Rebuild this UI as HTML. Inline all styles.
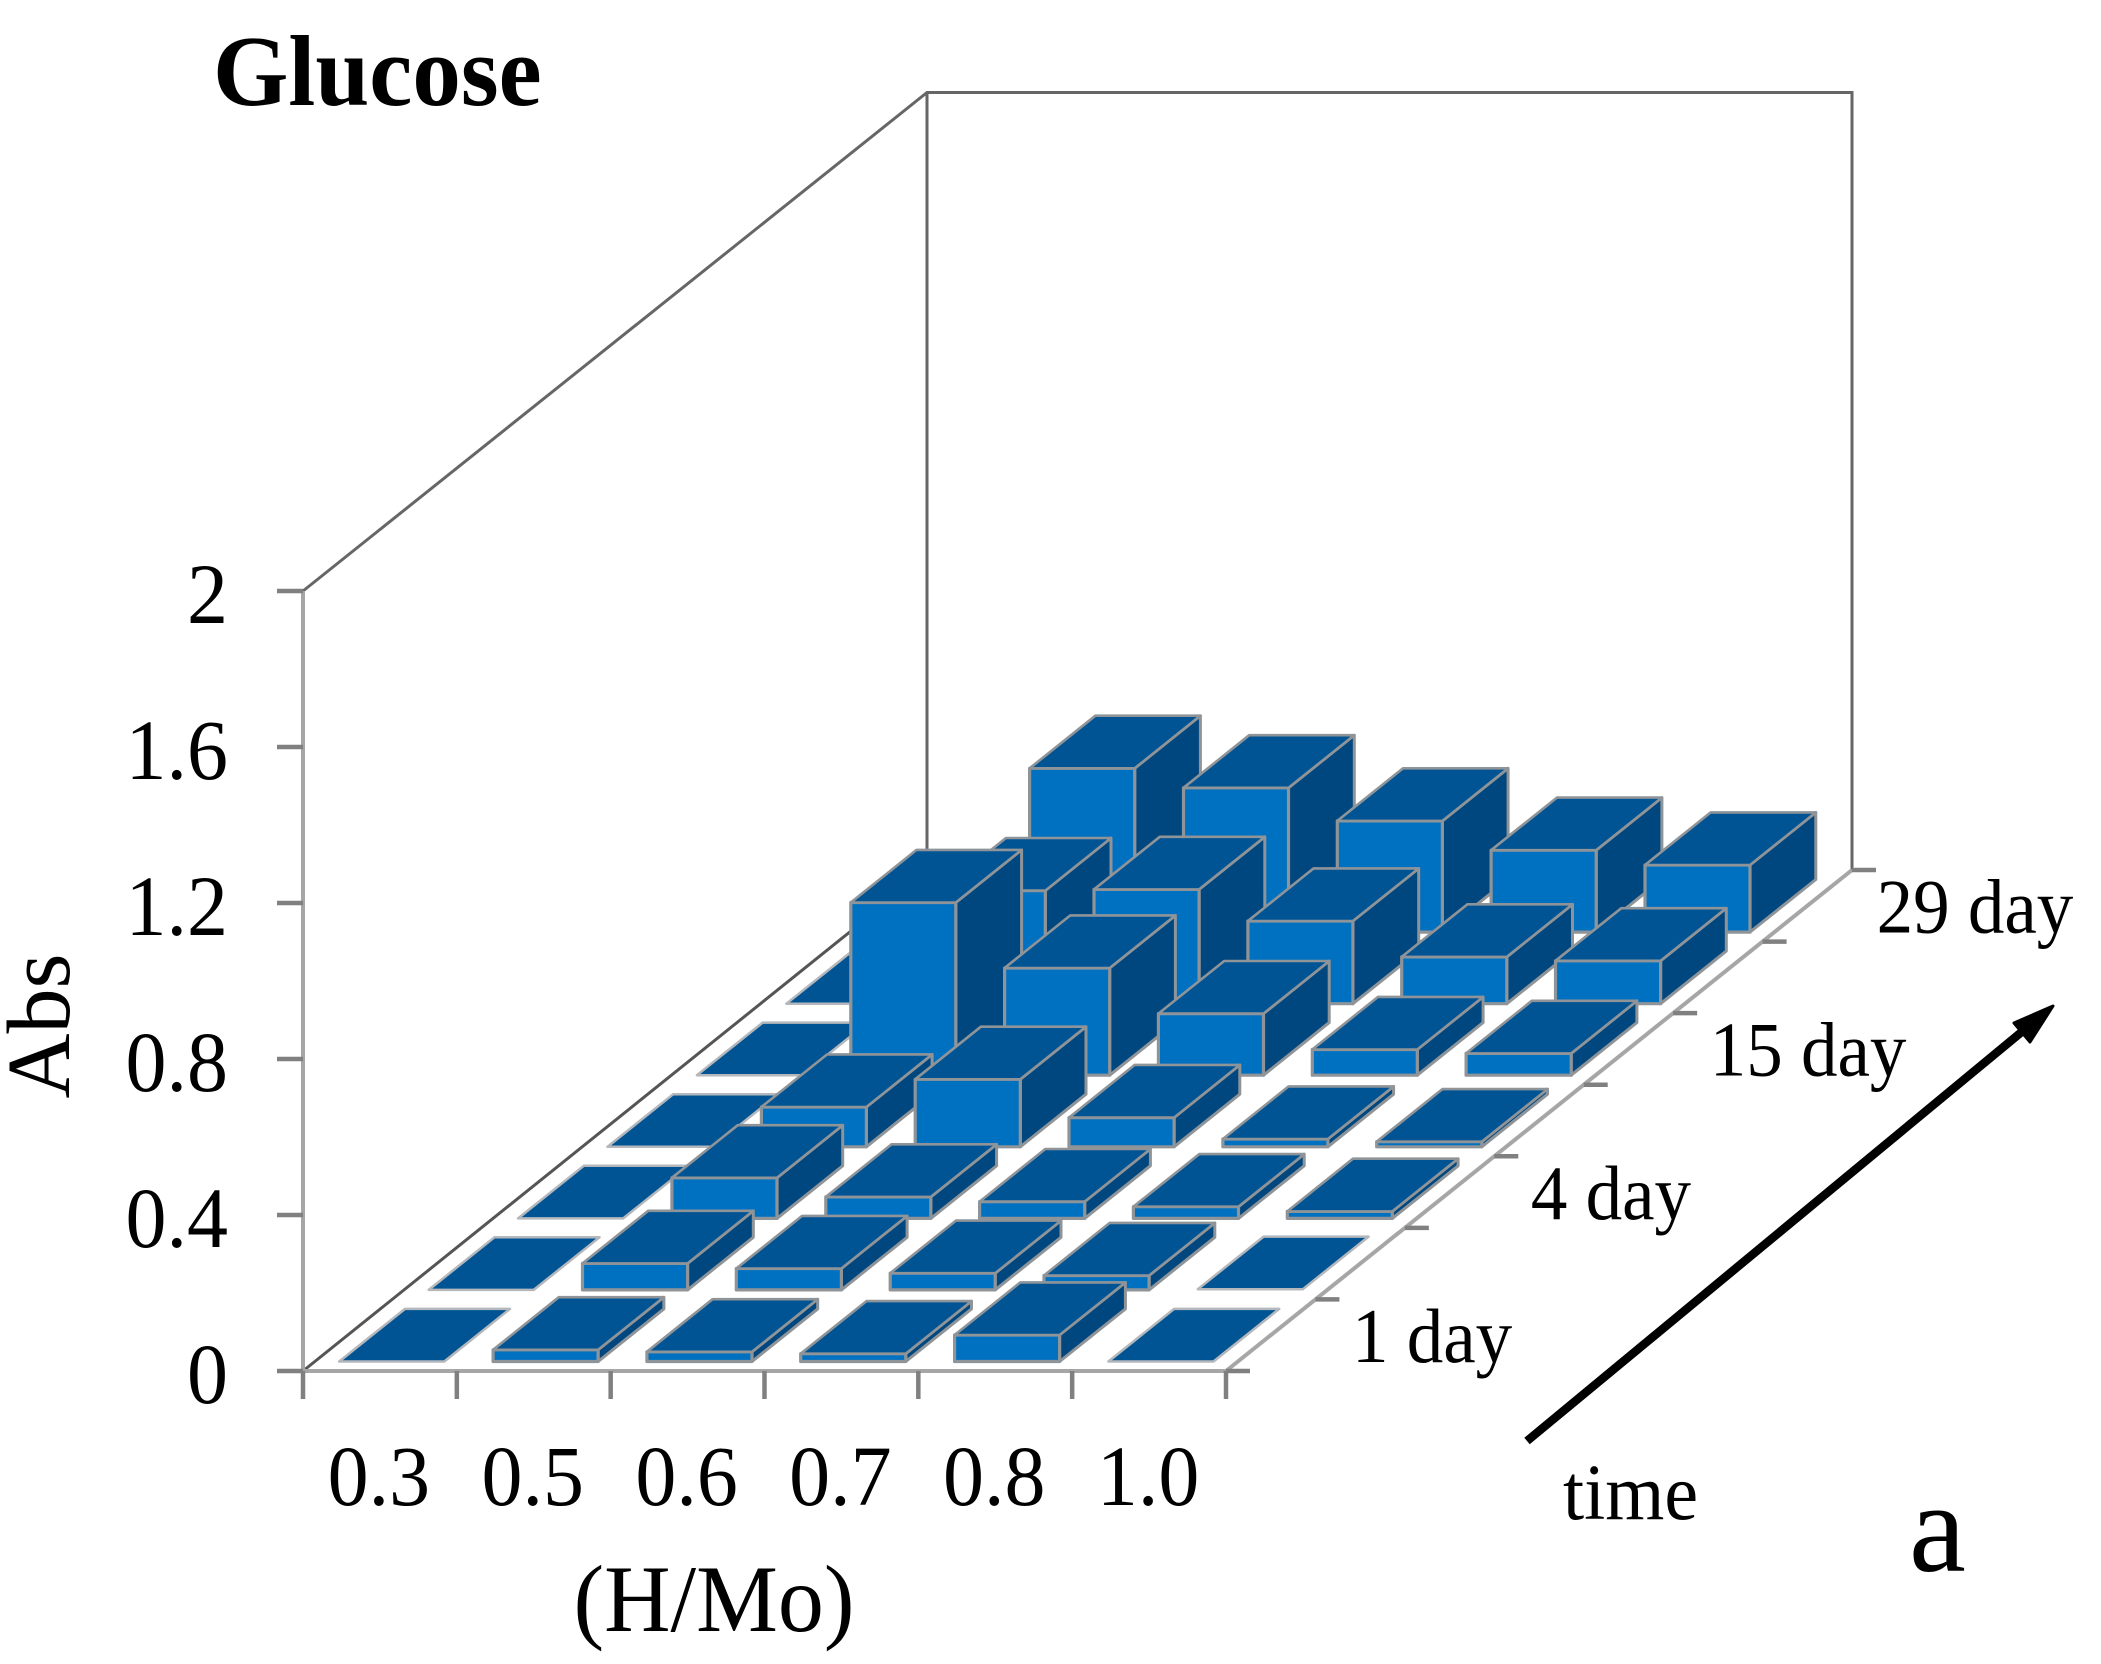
<!DOCTYPE html>
<html lang="en">
<head>
<meta charset="utf-8">
<title>Glucose 3D bar chart</title>
<style>
html,body{margin:0;padding:0;background:#fff;}
body{width:2101px;height:1664px;overflow:hidden;}
svg{display:block;}
text{font-family:"Liberation Serif",serif;fill:#000;}
</style>
</head>
<body>
<svg id="chart" xmlns="http://www.w3.org/2000/svg" width="2101" height="1664" viewBox="0 0 2101 1664">
  <rect x="0" y="0" width="2101" height="1664" fill="#fff"/>
  <g id="walls"></g>
  <g id="axes"></g>
  <g id="bars"></g>
  <g id="labels"></g>
  <text transform="translate(213,105) scale(1,1.04)" font-size="97" font-weight="bold">Glucose</text>
  <text transform="translate(69,1026) rotate(-90)" font-size="90" text-anchor="middle">Abs</text>
  <text transform="translate(714,1631) scale(1,1.04)" font-size="92" text-anchor="middle">(H/Mo)</text>
  <text transform="translate(1563,1519) scale(1,1.04)" font-size="76">time</text>
  <text x="1909" y="1571" font-size="128">a</text>
  <line x1="1527" y1="1441" x2="2024" y2="1030" stroke="#000" stroke-width="8.5"/>
  <polygon points="2053,1006 2014,1023 2030,1042" fill="#000" stroke="#000" stroke-width="3" stroke-linejoin="round"/>
</svg>
<script>
// Chart data
const categories = ["0.3", "0.5", "0.6", "0.7", "0.8", "1.0"];
const timeLabels = ["1 day", "", "4 day", "", "15 day", "", "29 day"];
const yTicks = [0, 0.4, 0.8, 1.2, 1.6, 2];
const yTickLabels = ["0", "0.4", "0.8", "1.2", "1.6", "2"];
const row1 = [0, 0.03, 0.025, 0.02, 0.068, 0];
const row2 = [0, 0.068, 0.055, 0.043, 0.037, 0.002];
const row3 = [0, 0.104, 0.055, 0.043, 0.03, 0.018];
const row4 = [0, 0.102, 0.173, 0.075, 0.02, 0.013];
const row5 = [0, 0.443, 0.275, 0.158, 0.066, 0.056];
const row6 = [0, 0.29, 0.293, 0.212, 0.12, 0.11];
const row7 = [0, 0.42, 0.37, 0.285, 0.21, 0.172];
const seriesRows = [row1, row2, row3, row4, row5, row6, row7];
const yMax = 2;

// Projection
const originX = 303, originY = 1371;
const floorWidth = 923, depthDX = 626, depthDY = 501, wallHeight = 780;
const colWidth = floorWidth / categories.length;
const rowDX = depthDX / timeLabels.length, rowDY = depthDY / timeLabels.length;
const barFrac = 0.683, depthFrac = 0.735;

function project(col, row, value) {
  return [
    originX + col * colWidth + row * rowDX,
    originY - row * rowDY - (value / yMax) * wallHeight
  ];
}
function pts(list) {
  return list.map(function (p) { return p[0].toFixed(1) + "," + p[1].toFixed(1); }).join(" ");
}
const NS = "http://www.w3.org/2000/svg";
function make(tag, parent, attrs) {
  const el = document.createElementNS(NS, tag);
  for (const k in attrs) { el.setAttribute(k, attrs[k]); }
  parent.appendChild(el);
  return el;
}
const walls = document.getElementById("walls");
const axes = document.getElementById("axes");
const bars = document.getElementById("bars");
const labels = document.getElementById("labels");
const nCols = categories.length, nRows = timeLabels.length;

// Walls: back and left edges
const backTopLeft = project(0, nRows, yMax), wallBotLeft = project(0, nRows, 0);
const backTopRight = project(nCols, nRows, yMax), wallBotRight = project(nCols, nRows, 0);
const wallTopLeft = [backTopLeft[0] - 2, backTopLeft[1] + 2.5];
const wallTopRight = [backTopRight[0], backTopRight[1] + 2.5];
const wallBaseLeft = [wallBotLeft[0] - 2, wallBotLeft[1]];
const frontTop = project(0, 0, yMax), frontBot = project(0, 0, 0), frontRight = project(nCols, 0, 0);

const wallOutline = make("polyline", walls, {points: pts([frontTop, wallTopLeft, wallTopRight, wallBotRight]), fill: "none", stroke: "#666666", "stroke-width": 3});


const wallVertical = make("line", walls, {x1: wallTopLeft[0], y1: wallTopLeft[1], x2: wallBaseLeft[0], y2: wallBaseLeft[1], stroke: "#666666", "stroke-width": 3});


const floorLeft = make("line", walls, {x1: frontBot[0], y1: frontBot[1], x2: wallBaseLeft[0], y2: wallBaseLeft[1], stroke: "#555555", "stroke-width": 3});



// Axis lines
const yAxisLine = make("line", axes, {x1: frontTop[0], y1: frontTop[1], x2: frontBot[0], y2: frontBot[1], stroke: "#a6a6a6", "stroke-width": 4});


const xAxisLine = make("line", axes, {x1: frontBot[0], y1: frontBot[1], x2: frontRight[0], y2: frontRight[1], stroke: "#a6a6a6", "stroke-width": 4});


const depthAxisLine = make("line", axes, {x1: frontRight[0], y1: frontRight[1], x2: wallBotRight[0], y2: wallBotRight[1], stroke: "#a6a6a6", "stroke-width": 4});



// Y ticks and labels
yTicks.forEach(function (v, i) {
  const p = project(0, 0, v);
  const t = make("line", axes, {x1: p[0] - 26, y1: p[1], x2: p[0], y2: p[1], stroke: "#808080", "stroke-width": 4.5});
  
  
  const l = make("text", labels, {transform: "translate(228," + (p[1] + 32) + ") scale(1,1.05)", "font-size": 82, "text-anchor": "end"});
  
  
  l.textContent = yTickLabels[i];
});

// X ticks and labels
for (let c = 0; c <= nCols; c++) {
  const p = project(c, 0, 0);
  const t = make("line", axes, {x1: p[0], y1: p[1], x2: p[0], y2: p[1] + 28, stroke: "#808080", "stroke-width": 4.5});
  
  
}
categories.forEach(function (cat, c) {
  const p = project(c + 0.5, 0, 0);
  const l = make("text", labels, {transform: "translate(" + (p[0] - 1) + ",1505) scale(1,1.05)", "font-size": 82, "text-anchor": "middle"});
  
  
  l.textContent = cat;
});

// Depth ticks and labels
for (let r = 0; r <= nRows; r++) {
  const p = project(nCols, r, 0);
  const t = make("line", axes, {x1: p[0], y1: p[1], x2: p[0] + 24, y2: p[1], stroke: "#808080", "stroke-width": 4.5});
  
  
}
timeLabels.forEach(function (lab, r) {
  if (!lab) { return; }
  const p = project(nCols, r, 0);
  const labelGap = r === nRows - 1 ? 114 : 126;
  const l = make("text", labels, {transform: "translate(" + (p[0] + labelGap) + "," + (p[1] - 9) + ") scale(1,1.06)", "font-size": 73});
  
  
  l.textContent = lab;
});

// Bars, back to front, left to right
const gapC = (1 - barFrac) / 2, gapR = (1 - depthFrac) / 2;
for (let r = nRows - 1; r >= 0; r--) {
  for (let c = 0; c < nCols; c++) {
    const v = seriesRows[r][c];
    const c0 = c + gapC, c1 = c + 1 - gapC, r0 = r + gapR, r1 = r + 1 - gapR;
    const g = make("g", bars, {});
    
    
    const edge = "#8f9499";
    if (v > 0.005) {
      const side = make("polygon", g, {points: pts([project(c1, r0, 0), project(c1, r1, 0), project(c1, r1, v), project(c1, r0, v)]), fill: "#00477f", stroke: edge, "stroke-width": 3, "stroke-linejoin": "round"});
      
      
      const front = make("polygon", g, {points: pts([project(c0, r0, 0), project(c1, r0, 0), project(c1, r0, v), project(c0, r0, v)]), fill: "#0070c0", stroke: edge, "stroke-width": 3.2, "stroke-linejoin": "round"});
      
      
    }
    const top = make("polygon", g, {points: pts([project(c0, r0, v), project(c1, r0, v), project(c1, r1, v), project(c0, r1, v)]), fill: "#005494", stroke: v > 0.005 ? edge : "#b4b8bc", "stroke-width": v > 0.005 ? 2.6 : 2.5, "stroke-linejoin": "round"});
    
    
  }
}
</script>
</body>
</html>
